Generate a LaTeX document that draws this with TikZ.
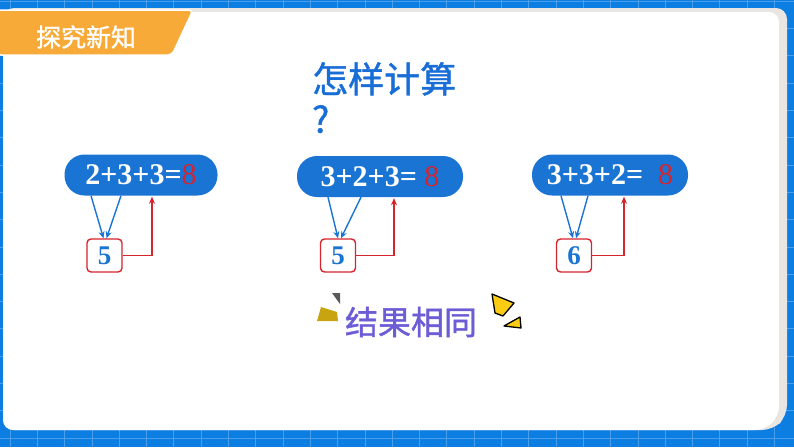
\documentclass[tikz,border=0pt]{standalone}
\usepackage{fontspec}
\setmainfont{Liberation Serif}
\newfontfamily\cjk[FakeBold=1.2]{Noto Sans CJK SC}
\usepackage{tikz}
\usetikzlibrary{arrows.meta}
\definecolor{bgblue}{RGB}{12,126,226}
\definecolor{gridblue}{RGB}{72,158,236}
\definecolor{pillblue}{RGB}{26,116,212}
\definecolor{tabor}{RGB}{247,170,55}
\definecolor{numred}{RGB}{214,36,44}
\definecolor{titleblue}{RGB}{24,110,214}
\definecolor{samepurple}{RGB}{108,92,214}
\definecolor{panelgray}{RGB}{232,229,226}
\definecolor{decoyellow}{RGB}{250,205,20}
\tikzset{
  pill/.style={fill=pillblue, rounded corners=20pt, minimum height=41pt, inner sep=0pt,
    text=white, font=\fontsize{30}{30}\selectfont\bfseries},
  partbox/.style={draw=numred, line width=1.4pt, rounded corners=4pt, fill=white,
    minimum width=35pt, minimum height=33pt, inner sep=0pt,
    text=pillblue, font=\fontsize{27}{27}\selectfont\bfseries},
  addarrow/.style={draw=pillblue, line width=1.4pt, -{Stealth[length=7pt,width=6pt]}},
  sumarrow/.style={draw=numred, line width=1.4pt, -{Stealth[length=7pt,width=6pt]}},
  gridline/.style={gridblue, line width=0.8pt}
}
\newcommand{\redeight}{\textcolor{numred}{\mdseries 8}}

\begin{document}
\begin{tikzpicture}[x=1pt,y=-1pt]
\useasboundingbox (0,0) rectangle (794,447);
\fill[bgblue] (0,0) rectangle (794,447);
\foreach \i in {0,...,28} \draw[gridline] ({10+27.3*\i},0) -- ({10+27.3*\i},447);
\foreach \j in {0,...,16} \draw[gridline] (0,{438-27.3*\j}) -- (794,{438-27.3*\j});
\fill[panelgray, rounded corners=11pt] (3,8) -- (787,8) -- (787,416) -- (773,430) -- (3,430) -- cycle;
\fill[white, rounded corners=10pt] (3,12) -- (779,12) -- (779,416) -- (765,430) -- (3,430) -- cycle;

\filldraw[fill=tabor, draw=white, line width=1.5pt, rounded corners=4pt]
  (-3,10) -- (193,10) -- (172,55) -- (-3,55) -- cycle;
\node[text=white, font=\cjk\fontsize{25}{25}\selectfont] (tabtitle) at (86,37) {探究新知};

\node[text=titleblue, font=\cjk\fontsize{36}{40}\selectfont, align=left, anchor=north west,
  inner sep=0pt] (question) at (312,62) {怎样计算\\?};

\node[pill, minimum width=153pt] (p1) at (141,175) {2+3+3=\redeight};
\node[pill, minimum width=166pt] (p2) at (380,176.5) {3+2+3= \redeight};
\node[pill, minimum width=156pt] (p3) at (610,175) {3+3+2=\ \ \redeight};

\node[partbox] (b1) at (104.5,255.5) {5};
\node[partbox] (b2) at (338,255.5) {5};
\node[partbox] (b3) at (574,255.5) {6};

\draw[addarrow] ([xshift=-50pt]p1.south) -- ([xshift=-1pt]b1.north);
\draw[addarrow] ([xshift=-20pt]p1.south) -- ([xshift=2pt]b1.north);
\draw[addarrow] ([xshift=-52pt]p2.south) -- ([xshift=0pt]b2.north);
\draw[addarrow] ([xshift=-19pt]p2.south) -- ([xshift=3pt]b2.north);
\draw[addarrow] ([xshift=-49pt]p3.south) -- ([xshift=-1pt]b3.north);
\draw[addarrow] ([xshift=-22pt]p3.south) -- ([xshift=2pt]b3.north);

\draw[sumarrow] (b1.east) -| ([xshift=11pt,yshift=-1pt]p1.south);
\draw[sumarrow] (b2.east) -| ([xshift=14pt,yshift=-1pt]p2.south);
\draw[sumarrow] (b3.east) -| ([xshift=14pt,yshift=-1pt]p3.south);

\fill[decoyellow!80!black] (317,321) -- (321,307) -- (337,312) -- (338,321) -- cycle;
\fill[gray!70!black] (332,293) -- (340,293) -- (340,304) -- cycle;
\node[text=samepurple, font=\cjk\fontsize{33}{33}\selectfont] (same) at (411,322) {结果相同};
\filldraw[fill=decoyellow, draw=black, line width=1.3pt, line join=round]
  (492,294) -- (514,303) -- (503,316) -- (495,313) -- cycle;
\filldraw[fill=decoyellow, draw=black, line width=1.3pt, line join=round]
  (504,326) -- (520,317) -- (521,328) -- cycle;
\end{tikzpicture}
\end{document}
